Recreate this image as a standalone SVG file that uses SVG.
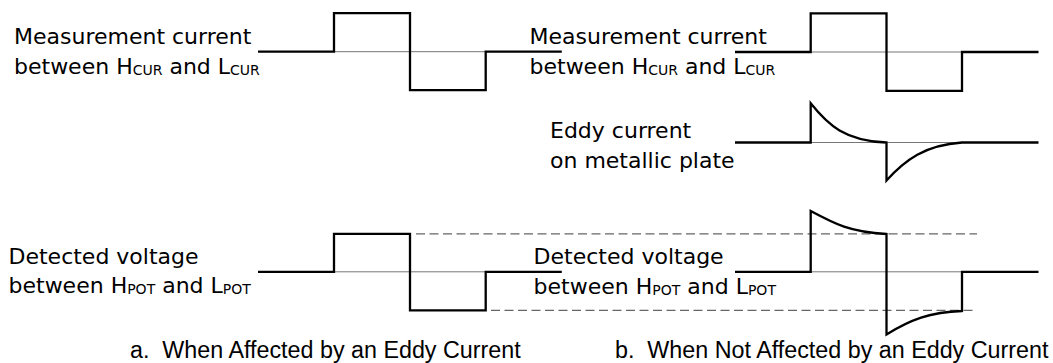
<svg xmlns="http://www.w3.org/2000/svg" width="1053" height="363" viewBox="0 0 1053 363">
<style>
.lbl{font-family:"DejaVu Sans",sans-serif;font-size:22px;fill:#000}
.sub{font-size:14px}
.cap{font-family:"Liberation Sans",Arial,sans-serif;font-size:23.3px;fill:#000;white-space:pre}
.wave{fill:none;stroke:#000;stroke-width:2.3;stroke-linejoin:miter}
.base{fill:none;stroke:#777;stroke-width:1}
.dash{fill:none;stroke:#666;stroke-width:1.2;stroke-dasharray:9 4.5}
</style>
<rect width="1053" height="363" fill="#fff"/>
<g id="baselines">
<line class="base" x1="334" y1="51.7" x2="485.7" y2="51.7"/>
<line class="base" x1="810.7" y1="52" x2="962" y2="52"/>
<line class="base" x1="810.7" y1="142.5" x2="962" y2="142.5"/>
<line class="base" x1="334" y1="271.8" x2="485.7" y2="271.8"/>
<line class="base" x1="810.7" y1="271.8" x2="962" y2="271.8"/>
</g>
<g id="reference-levels">
<line class="dash" x1="416" y1="233.9" x2="977" y2="233.9"/>
<line class="dash" x1="491" y1="310.3" x2="977" y2="310.3"/>
</g>
<g id="a-current">
<path class="wave" d="M258,51.7 H334 V13.2 H410 V90.2 H485.7 V51.7 H561.8"/>
<text class="lbl" x="14" y="44">Measurement current</text>
<text class="lbl" x="14" y="73.7">between H<tspan class="sub" dy="1">CUR</tspan><tspan dy="-1"> and L</tspan><tspan class="sub" dy="1">CUR</tspan></text>
</g>
<g id="a-voltage">
<path class="wave" d="M258,271.8 H334 V233.9 H410 V310.3 H485.7 V271.8 H561.8"/>
<text class="lbl" x="8.5" y="264.4">Detected voltage</text>
<text class="lbl" x="8.5" y="293">between H<tspan class="sub" dy="1">POT</tspan><tspan dy="-1"> and L</tspan><tspan class="sub" dy="1">POT</tspan></text>
</g>
<g id="b-current">
<path class="wave" d="M735,52 H810.7 V13.3 H886.5 V90.8 H962 V52 H1038.5"/>
<text class="lbl" x="529.5" y="44.2">Measurement current</text>
<text class="lbl" x="529.5" y="74">between H<tspan class="sub" dy="1">CUR</tspan><tspan dy="-1"> and L</tspan><tspan class="sub" dy="1">CUR</tspan></text>
</g>
<g id="b-eddy">
<path class="wave" d="M735,142.5 H810.7 V103.3 C828,125 845,141 886.5,142.5 V180.5 C905,160 925,145 962,142.5 H1038.5"/>
<text class="lbl" x="550" y="137.7">Eddy current</text>
<text class="lbl" x="550" y="167.6">on metallic plate</text>
</g>
<g id="b-voltage">
<path class="wave" d="M735,271.8 H810.7 V211 C835,224 850,232 886.5,234 V334.5 C910,320 930,312 962,311 V271.8 H1038.5"/>
<text class="lbl" x="533.6" y="264">Detected voltage</text>
<text class="lbl" x="533.6" y="293.7">between H<tspan class="sub" dy="1">POT</tspan><tspan dy="-1"> and L</tspan><tspan class="sub" dy="1">POT</tspan></text>
</g>
<g id="captions">
<text class="cap" x="130" y="357.5">a.  When Affected by an Eddy Current</text>
<text class="cap" x="615" y="357.5">b.  When Not Affected by an Eddy Current</text>
</g>
</svg>
